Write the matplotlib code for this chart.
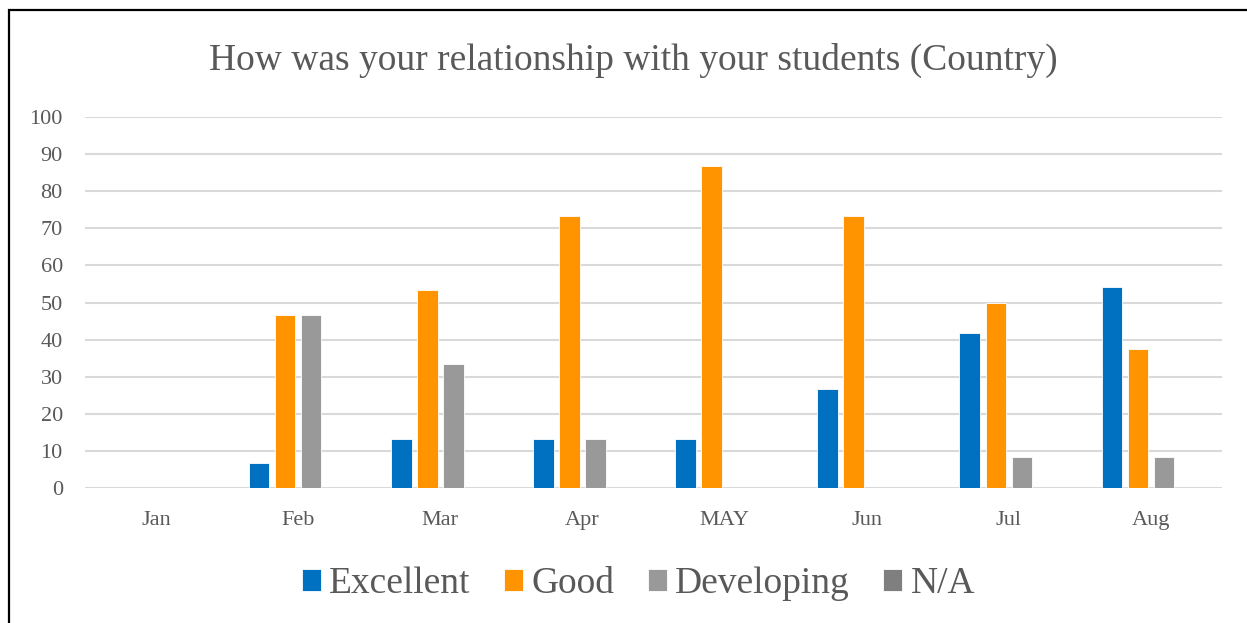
import matplotlib
matplotlib.use("Agg")
import matplotlib.pyplot as plt
import numpy as np
from matplotlib.patches import Rectangle

months = ["Jan", "Feb", "Mar", "Apr", "MAY", "Jun", "Jul", "Aug"]
series_names = ["Excellent", "Good", "Developing", "N/A"]
excellent = [0, 6.67, 13.33, 13.33, 13.33, 26.67, 41.67, 54.17]
good = [0, 46.67, 53.33, 73.33, 86.67, 73.33, 50.0, 37.5]
developing = [0, 46.67, 33.33, 13.33, 0, 0, 8.33, 8.33]
na = [0, 0, 0, 0, 0, 0, 0, 0]
colors = ["#0070C0", "#FF9300", "#999999", "#7F7F7F"]
yticks = [0, 10, 20, 30, 40, 50, 60, 70, 80, 90, 100]

plt.rcParams['font.family'] = ['Liberation Serif', 'DejaVu Serif']
text_color = "#595959"

W, H = 1247, 623
fig = plt.figure(figsize=(W / 100, H / 100), dpi=100)
ax = fig.add_axes([85 / W, 1 - 488 / H, (1222 - 85) / W, (488 - 117) / H])

x = np.arange(len(months))
width = 0.145
step = 0.183
data = [excellent, good, developing, na]
handles = []
for i, (name, vals, c) in enumerate(zip(series_names, data, colors)):
    b = ax.bar(x + (i - 1.5) * step, vals, width=width, color=c, label=name,
               edgecolor="white", linewidth=0.6, zorder=3)
    handles.append(b)

ax.set_xlim(-0.5, len(months) - 0.5)
ax.set_ylim(0, 100)
ax.set_yticks(yticks)
ax.set_xticks(x)
ax.set_xticklabels(months)
ax.tick_params(axis='both', length=0, labelsize=16, labelcolor=text_color)
ax.tick_params(axis='x', pad=16.5)
ax.tick_params(axis='y', pad=16)
for s in ax.spines.values():
    s.set_visible(False)
ax.grid(axis='y', color="#D9D9D9", linewidth=1.5, zorder=0)
ax.set_axisbelow(True)

fig.text(633 / W, 1 - 60 / H, "How was your relationship with your students (Country)",
         ha='center', va='center', fontsize=27, color=text_color)

leg = fig.legend(handles=handles, labels=series_names, loc='center',
                 bbox_to_anchor=(638.5 / W, 1 - 584 / H), ncol=4, frameon=False,
                 fontsize=27, handlelength=0.5, handleheight=0.5,
                 handletextpad=0.22, columnspacing=0.9, labelcolor=text_color,
                 borderpad=0)

# chart frame (extends beyond right and bottom of image)
fig.patches.append(Rectangle((9 / W, -0.1), 1.2, 1 - 10 / H + 0.1,
                             transform=fig.transFigure, fill=False,
                             edgecolor="black", linewidth=1.6))

fig.savefig("out.png", dpi=100)
